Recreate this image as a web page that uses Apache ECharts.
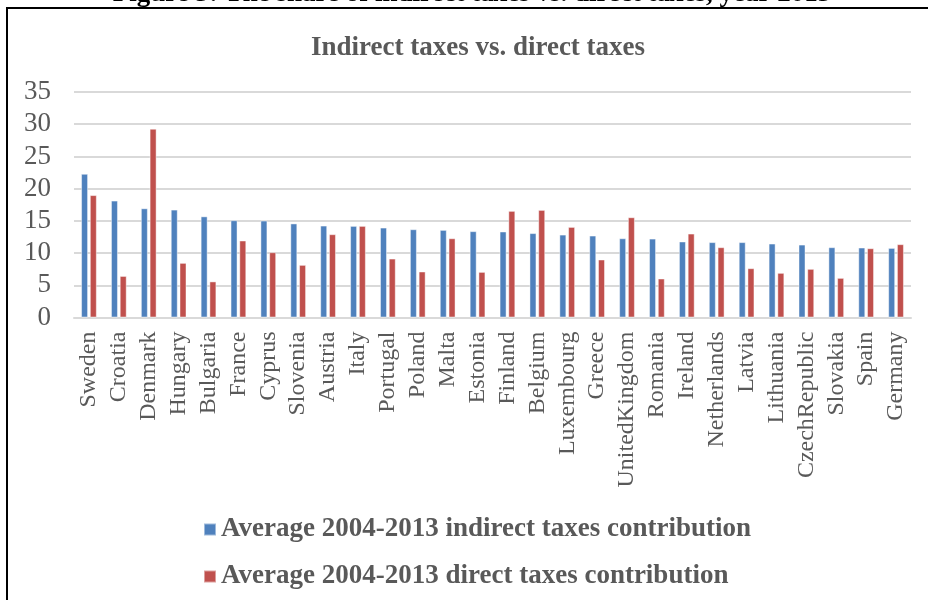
<!DOCTYPE html>
<html>
<head>
<meta charset="utf-8">
<script src="https://cdn.jsdelivr.net/npm/echarts@6/dist/echarts.min.js"></script>
<style>html,body{margin:0;padding:0;background:#fff}#c{width:928px;height:600px}</style>
</head>
<body>
<div id="c"></div>
<script>
const categories = ['Sweden','Croatia','Denmark','Hungary','Bulgaria','France','Cyprus','Slovenia','Austria','Italy','Portugal','Poland','Malta','Estonia','Finland','Belgium','Luxembourg','Greece','UnitedKingdom','Romania','Ireland','Netherlands','Latvia','Lithuania','CzechRepublic','Slovakia','Spain','Germany'];
const indirectTaxes = [22.3,18.15,16.95,16.75,15.7,15.1,15.05,14.6,14.27,14.22,13.96,13.7,13.6,13.4,13.35,13.1,12.87,12.72,12.3,12.25,11.8,11.7,11.7,11.48,11.32,10.91,10.86,10.8];
const directTaxes = [19.0,6.45,29.3,8.48,5.6,11.95,10.13,8.17,12.93,14.22,9.15,7.14,12.3,7.08,16.55,16.7,14.06,9.0,15.56,6.05,13.03,10.91,7.65,6.93,7.55,6.15,10.75,11.38];
const yTicks = [0,5,10,15,20,25,30,35];
const seriesNames = ['Average 2004-2013 indirect taxes contribution','Average 2004-2013 direct taxes contribution'];
const titleText = 'Indirect taxes vs. direct taxes';
const captionText = 'Figure 3: The share of indirect taxes vs. direct taxes, year 2013';

const font = "'Liberation Serif','Times New Roman',serif";
const chart = echarts.init(document.getElementById('c'), null, {renderer:'canvas'});
chart.setOption({
  animation:false,
  backgroundColor:'#fff',
  title:{text:titleText,left:473,textAlign:'center',top:30,textStyle:{fontFamily:font,fontSize:27,fontWeight:'bold',color:'#595959'}},
  graphic:[
    {type:'rect',shape:{x:7,y:8,width:960,height:640},style:{fill:'none',stroke:'#000',lineWidth:2},z:10},
    {type:'text',x:472,y:8,style:{text:captionText,font:"bold 27px 'Liberation Serif'",fill:'#000',textAlign:'center',textVerticalAlign:'bottom'},z:10}
  ],
  legend:{orient:'vertical',left:203,top:516,padding:0,itemWidth:12,itemHeight:12,itemGap:20,icon:'rect',
    textStyle:{fontFamily:font,fontSize:27,fontWeight:'bold',color:'#595959'},
    data:seriesNames},
  grid:{left:74,right:17,top:92,bottom:282.5},
  xAxis:{type:'category',data:categories,
    axisLine:{lineStyle:{color:'#D9D9D9',width:2}},axisTick:{show:false},
    axisLabel:{rotate:90,interval:0,margin:14,fontFamily:font,fontSize:24,color:'#595959'}},
  yAxis:{type:'value',min:0,max:35,interval:5,
    axisLine:{show:false},axisTick:{show:false},
    axisLabel:{margin:23,fontFamily:font,fontSize:27,color:'#595959',formatter:v=>yTicks.includes(v)?String(v):''},
    splitLine:{lineStyle:{color:'#D9D9D9',width:2}}},
  series:[
    {name:seriesNames[0],type:'bar',data:indirectTaxes,barWidth:7,barGap:'25%',itemStyle:{color:'#4F81BD',borderColor:'rgba(255,255,255,0.45)',borderWidth:1}},
    {name:seriesNames[1],type:'bar',data:directTaxes,barWidth:7,itemStyle:{color:'#C0504D',borderColor:'rgba(255,255,255,0.45)',borderWidth:1}}
  ]
});
</script>
</body>
</html>
